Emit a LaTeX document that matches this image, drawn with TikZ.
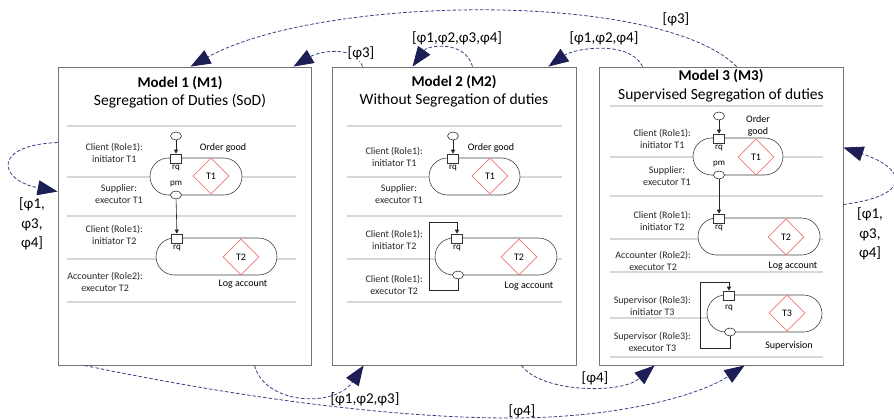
\documentclass[tikz,border=0pt]{standalone}
\usepackage{fontspec}
\setmainfont{Carlito}
\usetikzlibrary{arrows.meta}
\usetikzlibrary{shapes.geometric}
\usetikzlibrary{shapes.misc}
\definecolor{dashBlue}{RGB}{55,65,135}
\definecolor{headNavy}{RGB}{28,30,85}
\definecolor{diamRed}{RGB}{242,120,120}
\definecolor{sepGray}{RGB}{215,215,215}

\begin{document}
\begin{tikzpicture}[
  x=1pt, y=-1pt,
  font=\fontsize{10}{12}\selectfont,
  model/.style={draw=black!55, line width=0.9pt, minimum height=298pt, inner sep=0pt},
  sep/.style={draw=sepGray, line width=1.2pt},
  ttl/.style={font=\fontsize{15}{18}\selectfont\bfseries},
  sub/.style={font=\fontsize{15.5}{18}\selectfont},
  role/.style={anchor=east, align=center, inner sep=0pt, text=black!85},
  trans/.style={rounded rectangle, draw=black!75, fill=white, line width=0.6pt,
                minimum height=37pt, inner sep=0pt},
  tdiam/.style={diamond, draw=diamRed, line width=0.6pt, minimum width=36pt,
                minimum height=36pt, inner sep=0pt},
  rqbox/.style={draw=black!80, fill=white, line width=0.6pt, minimum width=11pt,
                minimum height=9pt, inner sep=0pt},
  ell/.style={ellipse, draw=black!80, fill=white, line width=0.6pt, minimum width=11pt,
              minimum height=8pt, inner sep=0pt},
  port/.style={font=\fontsize{9}{10}\selectfont, inner sep=0pt},
  flow/.style={-{Triangle[length=4pt,width=4pt]}, draw=black!85, line width=0.6pt},
  dep/.style={draw=dashBlue, line width=0.8pt, dash pattern=on 3.5pt off 2pt,
              -{Triangle[length=20pt,width=15pt,fill=headNavy,color=headNavy]}},
  phil/.style={font=\fontsize{15}{19.5}\selectfont, align=center, inner sep=1pt}
]
\useasboundingbox (0,0) rectangle (894,420);

\node[model, minimum width=253pt] (m1) at (184.5,216) {};
\node[model, minimum width=244pt] (m2) at (454,216) {};
\node[model, minimum width=244pt] (m3) at (721,216) {};

\node[ttl] at (180,83)  {Model 1 (M1)};
\node[sub] at (180,101) {Segregation of Duties (SoD)};
\node[ttl] at (454,82)  {Model 2 (M2)};
\node[sub] at (454,100) {Without Segregation of duties};
\node[ttl] at (721,76)  {Model 3 (M3)};
\node[sub] at (721,95)  {Supervised Segregation of duties};

\foreach \y in {126,177,216,259,302} {
  \draw[sep] (67,\y) -- (296,\y);
  \draw[sep] (347,\y) -- (562,\y);
}
\foreach \y in {106,157,196,239,272,318,357}
  \draw[sep] (610,\y) -- (823,\y);

% model 1
\node[role] at (143,152.5) {Client (Role1):\\initiator T1};
\node[role] at (143,194)   {Supplier:\\executor T1};
\node[role] at (143,235)   {Client (Role1):\\initiator T2};
\node[role] at (143,282)   {Accounter (Role2):\\executor T2};

\node[trans, minimum width=92pt] (m1t1) at (196,176.5) {};
\node[tdiam] (m1d1) at (211,176) {T1};
\node[ell]   (m1c)  at (176,136) {};
\node[rqbox] (m1s1) at (176,158.5) {};
\node[ell]   (m1e1) at (176,195) {};
\node[port] at (176,168) {rq};
\node[port] at (176,184) {pm};
\node at (223,148) {Order good};
\draw[flow] (m1c) -- (m1s1);

\node[trans, minimum width=121pt] (m1t2) at (216.5,256.5) {};
\node[tdiam] (m1d2) at (241,257) {T2};
\node[rqbox] (m1s2) at (177,238.5) {};
\node[port] at (177,248) {rq};
\node at (243,284) {Log account};
\draw[flow] (m1e1) -- (m1s2);

% model 2
\node[role] at (423,157)   {Client (Role1):\\initiator T1};
\node[role] at (423,194)   {Supplier:\\executor T1};
\node[role] at (423,239.5) {Client (Role1):\\initiator T2};
\node[role] at (423,284.5) {Client (Role1):\\executor T2};

\node[trans, minimum width=91pt] (m2t1) at (474.5,176.5) {};
\node[tdiam] (m2d1) at (490,176) {T1};
\node[ell]   (m2c)  at (453,136) {};
\node[rqbox] (m2s1) at (453,158.5) {};
\node[port] at (453,168) {rq};
\node at (491,148) {Order good};
\draw[flow] (m2c) -- (m2s1);

\node[trans, minimum width=122pt] (m2t2) at (496,256.5) {};
\node[tdiam] (m2d2) at (519,257) {T2};
\node[rqbox] (m2s2) at (457,238.5) {};
\node[ell]   (m2e2) at (458,275) {};
\node[port] at (457,248) {rq};
\node at (529,286) {Log account};
\draw[flow] (m2e2.south) -- ++(0,11) -| (429,222) -| (m2s2.north);

% model 3
\node[role] at (691,139)   {Client (Role1):\\initiator T1};
\node[role] at (691,176)   {Supplier:\\executor T1};
\node[role] at (691,220.5) {Client (Role1):\\initiator T2};
\node[role] at (691,260.5) {Accounter (Role2):\\executor T2};
\node[role] at (691,305.5) {Supervisor (Role3):\\initiator T3};
\node[role] at (691,342)   {Supervisor (Role3):\\executor T3};

\node[trans, minimum width=90pt] (m3t1) at (738,156.5) {};
\node[tdiam] (m3d1) at (756,157) {T1};
\node[ell]   (m3c)  at (719,116) {};
\node[rqbox] (m3s1) at (719,138.5) {};
\node[ell]   (m3e1) at (719,175) {};
\node[port] at (719,148) {rq};
\node[port] at (719,164) {pm};
\node[align=center] at (758,126) {Order\\good};
\draw[flow] (m3c) -- (m3s1);

\node[trans, minimum width=122pt] (m3t2) at (759,236.5) {};
\node[tdiam] (m3d2) at (786,237) {T2};
\node[rqbox] (m3s2) at (719,218.5) {};
\node[port] at (719,228) {rq};
\node at (793,266) {Log account};
\draw[flow] (m3e1) -- (m3s2);

\node[trans, minimum width=115pt] (m3t3) at (764.5,313.5) {};
\node[tdiam] (m3d3) at (787,313) {T3};
\node[rqbox] (m3s3) at (729,295.5) {};
\node[ell]   (m3e3) at (730,332) {};
\node[port] at (729,308) {rq};
\node at (789,346) {Supervision};
\draw[flow] (m3e3.south) -- ++(0,12) -| (700,282) -| (m3s3.north);

% transitions between models
\draw[dep] ([xshift=138pt]m3.north west) .. controls (660,-10) and (320,-5) .. ([xshift=133pt]m1.north west);
\draw[dep] ([xshift=31pt]m2.north west) .. controls (355,45) and (320,51) .. ([xshift=-18pt]m1.north east);
\draw[dep] ([xshift=141pt]m2.north west) .. controls (465,40) and (428,45) .. ([xshift=81pt]m2.north west);
\draw[dep] ([xshift=44pt]m3.north west) .. controls (630,40) and (575,48) .. ([xshift=-28pt]m2.north east);
\draw[dep] ([yshift=-76pt]m1.north west) .. controls (-8,145) and (-2,180) .. ([yshift=-125pt]m1.north west);
\draw[dep] ([yshift=-138pt]m3.north east) .. controls (915,195) and (905,168) .. ([yshift=-81pt]m3.north east);
\draw[dep] ([xshift=197pt]m1.south west) .. controls (265,405) and (335,408) .. ([xshift=32pt]m2.south west);
\draw[dep] ([xshift=27pt]m1.south west) .. controls (250,400) and (400,418) .. (510,418)
   .. controls (620,418) and (700,395) .. ([xshift=146pt]m3.south west);
\draw[dep] ([xshift=190pt]m2.south west) .. controls (540,392) and (620,395) .. ([xshift=56pt]m3.south west);

\node[phil] at (676,19) {[φ3]};
\node[phil, fill=white] at (361,53) {[φ3]};
\node[phil] at (457,38) {[φ1,φ2,φ3,φ4]};
\node[phil] at (604,38) {[φ1,φ2,φ4]};
\node[phil] at (32,224) {[φ1,\\φ3,\\φ4]};
\node[phil] at (870,234) {[φ1,\\φ3,\\φ4]};
\node[phil] at (365,399) {[φ1,φ2,φ3]};
\node[phil] at (595,378) {[φ4]};
\node[phil] at (522,411) {[φ4]};
\end{tikzpicture}
\end{document}
